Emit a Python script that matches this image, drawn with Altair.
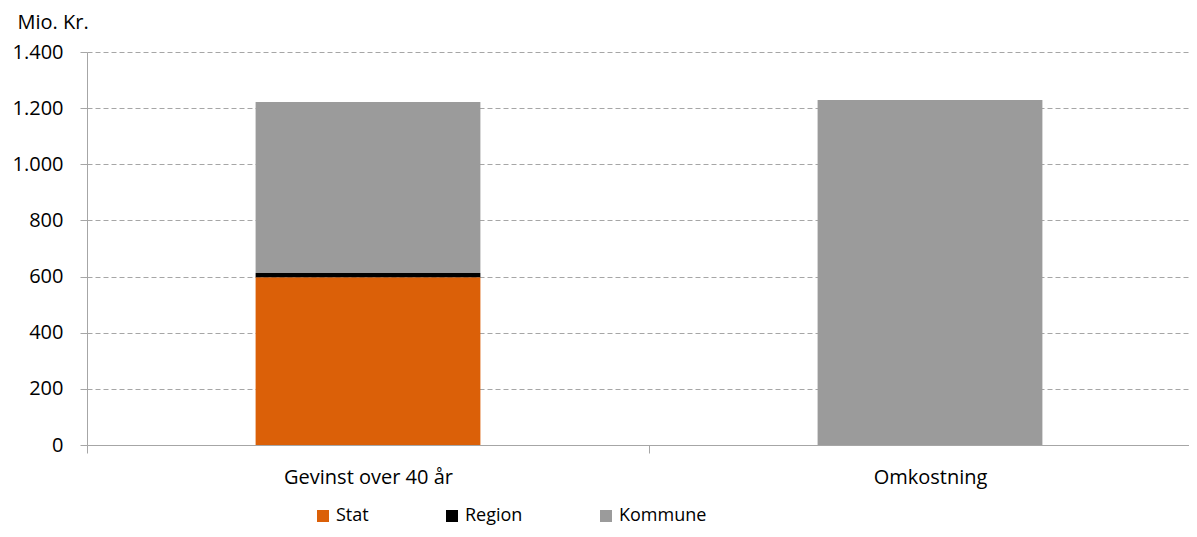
import altair as alt
import pandas as pd

categories = ["Gevinst over 40 år", "Gevinst over 40 år", "Gevinst over 40 år", "Omkostning"]
series = ["Stat", "Region", "Kommune", "Kommune"]
values = [598, 15, 609, 1229]
series_order = ["Stat", "Region", "Kommune"]
series_colors = ["#DB6008", "#000000", "#9B9B9B"]
y_ticks = [0, 200, 400, 600, 800, 1000, 1200, 1400]

df = pd.DataFrame({"kategori": categories, "serie": series, "vaerdi": values})
df["orden"] = df["serie"].map({s: i for i, s in enumerate(series_order)})

FONT = "Open Sans"

chart = alt.Chart(df).mark_bar(width={"band": 0.4}).encode(
    x=alt.X("kategori:N", sort=["Gevinst over 40 år", "Omkostning"],
            scale=alt.Scale(range=[0, 1124], paddingInner=0, paddingOuter=0),
            axis=alt.Axis(title=None, labelAngle=0, tickBand="extent", tickSize=8,
                          labelPadding=14, labelFontSize=20, labelFont=FONT,
                          labelColor="#000000", domainColor="#A6A6A6", tickColor="#A6A6A6",
                          grid=False)),
    y=alt.Y("vaerdi:Q", stack="zero",
            scale=alt.Scale(domain=[0, 1400], nice=False),
            axis=alt.Axis(values=y_ticks, title="Mio. Kr.", titleAngle=0,
                          titleAlign="left", titleBaseline="middle", titleX=-70, titleY=-30,
                          titleFont=FONT, titleFontSize=20, titleFontWeight="normal",
                          titleColor="#000000",
                          labelExpr="replace(format(datum.value, ','), ',', '.')",
                          labelFont=FONT, labelFontSize=20, labelColor="#000000",
                          labelPadding=17, tickSize=7, tickColor="#A6A6A6",
                          domainColor="#A6A6A6", gridColor="#A6A6A6", gridDash=[5, 3],
                          gridWidth=1)),
    color=alt.Color("serie:N", sort=series_order,
                    scale=alt.Scale(domain=series_order, range=series_colors),
                    legend=alt.Legend(title=None, orient="none", direction="horizontal",
                                      legendX=227, legendY=455, symbolType="square",
                                      symbolSize=144, symbolStrokeWidth=0,
                                      labelFont=FONT, labelFontSize=18, labelColor="#000000",
                                      columnPadding=74, labelOffset=4)),
    order=alt.Order("orden:Q"),
).properties(
    width=1102, height=393,
    autosize=alt.AutoSizeParams(type="none"),
    padding={"left": 79, "top": 44, "right": 0, "bottom": 84},
).configure_view(stroke=None)

chart.save("out.html", embed_options={"renderer": "svg", "actions": False})
